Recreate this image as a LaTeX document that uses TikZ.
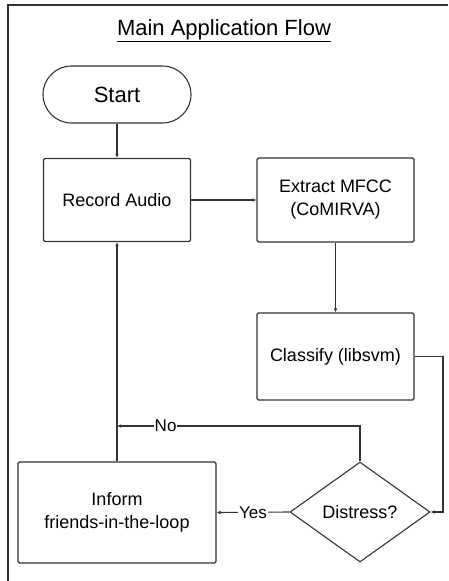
\documentclass[tikz,border=0pt]{standalone}
\usepackage{fontspec}
\setmainfont{Liberation Sans}
\usetikzlibrary{arrows.meta,shapes.geometric}
\definecolor{linegray}{HTML}{333333}
\begin{document}
\begin{tikzpicture}[x=1pt,y=-1pt,
    box/.style={draw=linegray,line width=1.1pt,rounded corners=1.5pt,align=center,
      font=\fontsize{18}{23}\selectfont,inner sep=0pt},
    arr/.style={draw=linegray,line width=1.1pt,-{Latex[length=4pt,width=3.5pt]}},
    lbl/.style={fill=white,inner sep=1pt,font=\fontsize{17}{20}\selectfont}]
      \useasboundingbox (0,0) rectangle (448,581);
      \draw[linegray,line width=1.4pt] (448,5) -- (8,5) -- (8,581);
      \node[font=\fontsize{22}{26}\selectfont] (title) at (224,31) {\underline{Main Application Flow}};
      \node[box,rounded corners=28.5pt,minimum width=148pt,minimum height=57pt,
        font=\fontsize{22}{26}\selectfont] (start) at (117,94.5) {Start};
      \node[box,minimum width=147pt,minimum height=83pt] (record) at (117,200) {Record Audio};
      \node[box,minimum width=157pt,minimum height=84pt] (mfcc) at (335.5,200) {Extract MFCC\\(CoMIRVA)};
      \node[box,minimum width=157pt,minimum height=87pt] (classify) at (335.5,356.5) {Classify (libsvm)};
      \node[box,shape=diamond,rounded corners=0pt,minimum width=140pt,minimum height=100pt] (distress) at (360,512) {Distress?};
      \node[box,minimum width=198pt,minimum height=101pt] (inform) at (117,512.5) {Inform\\friends-in-the-loop};
      \coordinate (turn) at (443,356.5);
      \coordinate (join) at (117,426);
      \draw[arr] (start) -- (record);
      \draw[arr] (record) -- (mfcc);
      \draw[arr] (mfcc) -- (classify);
      \draw[arr] (classify.east) -- (turn) |- (distress.east);
      \draw[arr] (distress.west) -- node[lbl] {Yes} (inform.east);
      \draw[arr] (distress.north) |- node[lbl,pos=0.9] {No} (join);
      \draw[arr] (inform.north) -- (record.south);
    \end{tikzpicture}
\end{document}
